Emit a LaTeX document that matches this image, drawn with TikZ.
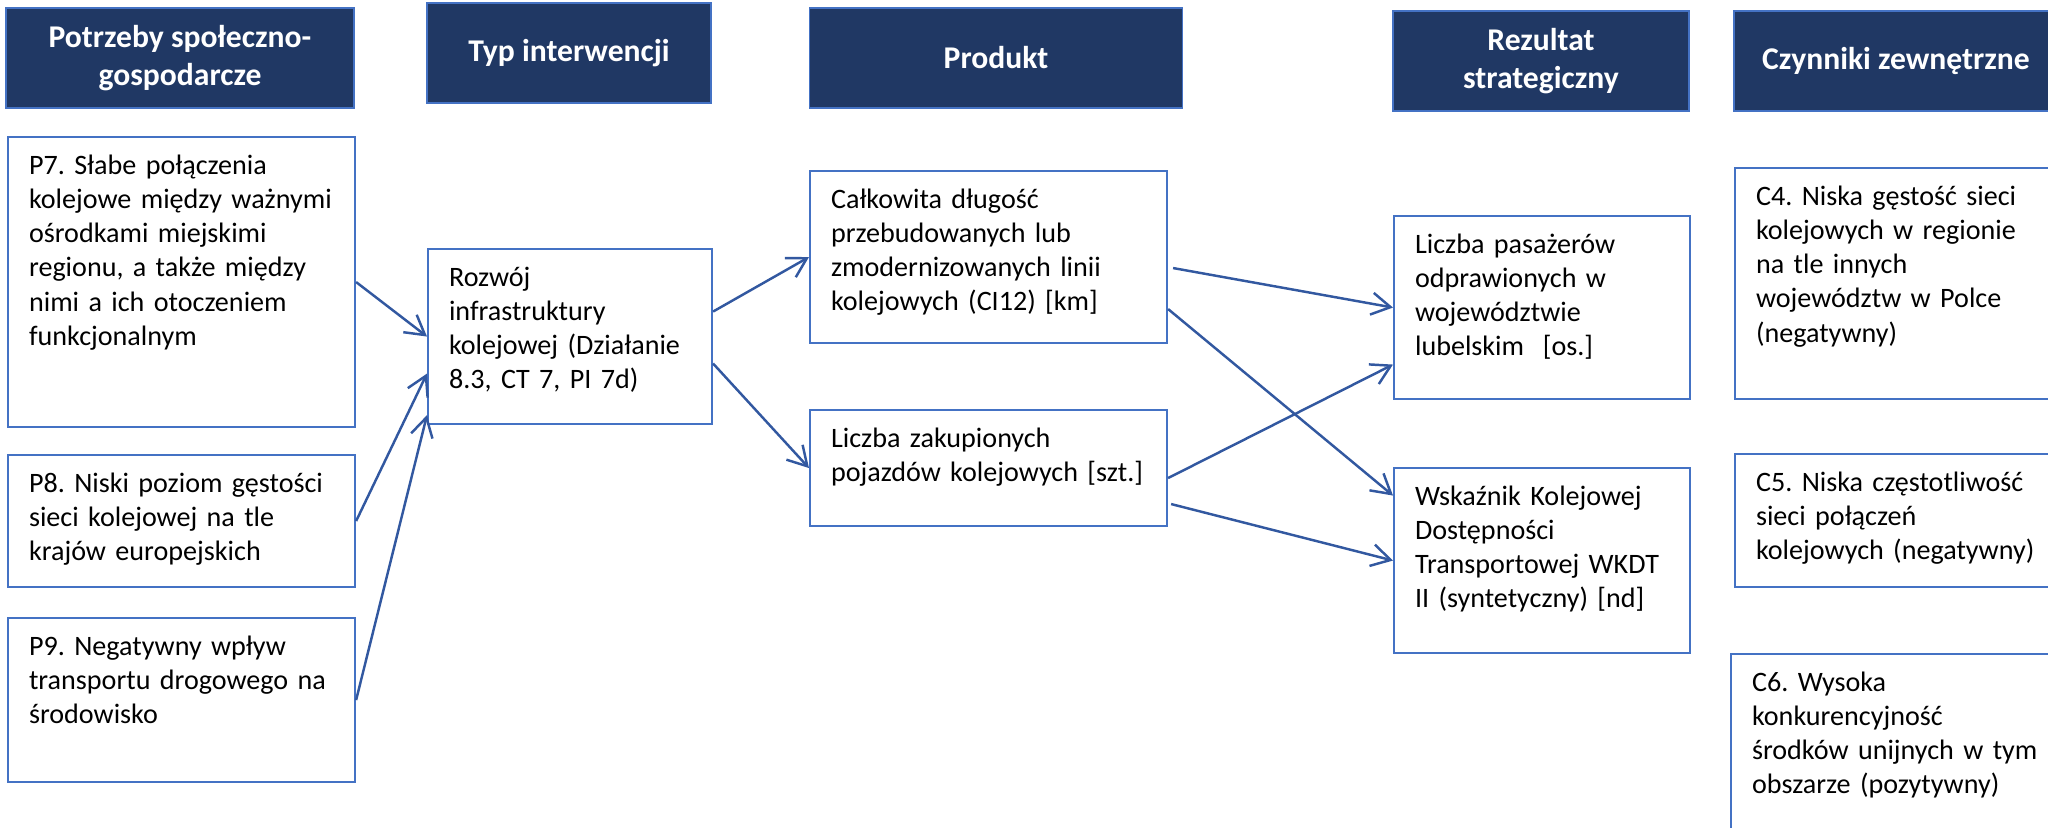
\documentclass[tikz,border=0pt]{standalone}
\usepackage{fontspec}
\setmainfont{Carlito}
\frenchspacing
\usetikzlibrary{arrows.meta}

\definecolor{headblue}{RGB}{32,56,100}
\definecolor{boxblue}{RGB}{68,114,196}
\definecolor{arrowblue}{RGB}{50,88,160}

\begin{document}
\begin{tikzpicture}[
    head/.style={draw=boxblue, line width=0.5pt, fill=headblue, text=white, font=\fontsize{9pt}{10.8pt}\selectfont\bfseries, align=center, minimum height=1cm, inner sep=0pt},
    box/.style 2 args={draw=boxblue, line width=0.6pt, anchor=north west, align=left, font=\fontsize{8pt}{9.76pt}\selectfont, inner xsep=0.21cm, inner ysep=0.15cm, text width=#1, text height=0.22cm, text depth=#2},
    arrow/.style={-{Straight Barb[length=1.9mm, width=2.2mm]}, draw=arrowblue, line width=0.7pt},
  ]
  \useasboundingbox (0,0) rectangle (20.48,-8.28);
  \clip (0,0) rectangle (20.48,-8.28);

  % column headers
  \node[head, minimum width=3.48cm] (hpotrz) at (1.80,-0.58) {Potrzeby społeczno-\\gospodarcze};
  \node[head, minimum width=2.84cm] (htyp) at (5.69,-0.53) {Typ interwencji};
  \node[head, minimum width=3.73cm] (hprod) at (9.96,-0.58) {Produkt};
  \node[head, minimum width=2.96cm] (hrez) at (15.41,-0.61) {Rezultat\\strategiczny};
  \node[head, minimum width=3.24cm] (hczyn) at (18.96,-0.61) {Czynniki zewnętrzne};

  % needs
  \node[box={3.05cm}{2.38cm}] (p7) at (0.07,-1.36) {P7. Słabe połączenia\\kolejowe między ważnymi\\ośrodkami miejskimi\\regionu, a także między\\nimi a ich otoczeniem\\funkcjonalnym};
  \node[box={3.05cm}{0.80cm}] (p8) at (0.07,-4.54) {P8. Niski poziom gęstości\\sieci kolejowej na tle\\krajów europejskich};
  \node[box={3.05cm}{1.12cm}] (p9) at (0.07,-6.17) {P9. Negatywny wpływ\\transportu drogowego na\\środowisko};

  % intervention
  \node[box={2.42cm}{1.23cm}] (rozwoj) at (4.27,-2.48) {Rozwój\\infrastruktury\\kolejowej (Działanie\\8.3, CT 7, PI 7d)};

  % products
  \node[box={3.15cm}{1.20cm}] (calk) at (8.09,-1.70) {Całkowita długość\\przebudowanych lub\\zmodernizowanych linii\\kolejowych (CI12) [km]};
  \node[box={3.15cm}{0.64cm}] (zakup) at (8.09,-4.09) {Liczba zakupionych\\pojazdów kolejowych [szt.]};

  % results
  \node[box={2.54cm}{1.31cm}] (pasaz) at (13.93,-2.15) {Liczba pasażerów\\odprawionych w\\województwie\\lubelskim~~[os.]};
  \node[box={2.54cm}{1.33cm}] (wkdt) at (13.93,-4.67) {Wskaźnik Kolejowej\\Dostępności\\Transportowej WKDT\\II (syntetyczny) [nd]};

  % external factors
  \node[box={2.95cm}{1.79cm}] (c4) at (17.34,-1.67) {C4. Niska gęstość sieci\\kolejowych w regionie\\na tle innych\\województw w Polce\\(negatywny)};
  \node[box={2.95cm}{0.81cm}] (c5) at (17.34,-4.53) {C5. Niska częstotliwość\\sieci połączeń\\kolejowych (negatywny)};
  \node[box={2.95cm}{1.68cm}] (c6) at (17.30,-6.53) {C6. Wysoka\\konkurencyjność\\środków unijnych w tym\\obszarze (pozytywny)};

  % links
  \draw[arrow] (p7.east) -- (rozwoj.west);
  \draw[arrow] (p8.east) -- ([yshift=-0.37cm]rozwoj.west);
  \draw[arrow] (p9.east) -- ([yshift=0.1cm]rozwoj.south west);
  \draw[arrow] ([yshift=0.25cm]rozwoj.east) -- (calk.west);
  \draw[arrow] ([yshift=-0.27cm]rozwoj.east) -- (zakup.west);
  \draw[arrow] ([xshift=0.05cm,yshift=-0.11cm]calk.east) -- (pasaz.west);
  \draw[arrow] ([yshift=-0.52cm]calk.east) -- ([yshift=0.65cm]wkdt.west);
  \draw[arrow] ([yshift=-0.10cm]zakup.east) -- ([yshift=-0.57cm]pasaz.west);
  \draw[arrow] ([xshift=0.03cm,yshift=-0.36cm]zakup.east) -- (wkdt.west);
\end{tikzpicture}
\end{document}
